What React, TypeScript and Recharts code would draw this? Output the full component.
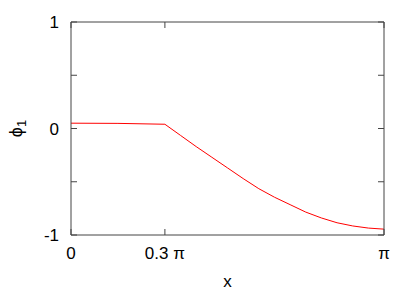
import React from 'react';
import { LineChart, Line, XAxis, YAxis } from 'recharts';

const xPositions = [0, 0.15, 0.3, 0.35, 0.4, 0.45, 0.5, 0.55, 0.6, 0.65, 0.7, 0.75, 0.8, 0.85, 0.9, 0.95, 1];
const phiValues = [0.05, 0.048, 0.04, -0.065, -0.17, -0.27, -0.37, -0.47, -0.565, -0.645, -0.715, -0.785, -0.84, -0.885, -0.915, -0.935, -0.945];
const xTicks = [0, 0.3, 1];
const xTickLabels = ['0', '0.3 π', 'π'];
const yTicks = [-1, -0.5, 0, 0.5, 1];
const yTickLabels = ['-1', '', '0', '', '1'];

const data = xPositions.map((x, i) => ({ x, phi: phiValues[i] }));

const FONT = 'Liberation Sans, Arial, Helvetica, sans-serif';
const AXIS = '#444';

const fmtX = (v: number) => {
  const i = xTicks.indexOf(v);
  return i >= 0 ? xTickLabels[i] : '';
};
const fmtY = (v: number) => {
  const i = yTicks.indexOf(v);
  return i >= 0 ? yTickLabels[i] : '';
};
const blank = () => '';

const YLabel = (props: any) => {
  const vb = props.viewBox || {};
  const cx = vb.x + 16;
  const cy = vb.y + vb.height / 2;
  return (
    <text
      x={cx}
      y={cy}
      transform={`rotate(-90, ${cx}, ${cy})`}
      textAnchor="middle"
      dominantBaseline="central"
      fontFamily={FONT}
      fontSize={18}
      fill="#000"
    >
      <tspan>ϕ</tspan>
      <tspan fontSize={13} dy={5}>1</tspan>
    </text>
  );
};

const XLabel = (props: any) => {
  const vb = props.viewBox || {};
  return (
    <text
      x={vb.x + vb.width / 2}
      y={vb.y + 52}
      textAnchor="middle"
      fontFamily={FONT}
      fontSize={17}
      fill="#000"
    >
      x
    </text>
  );
};

export default function App() {
  const tickStyle = { fontFamily: FONT, fontSize: 17, fill: '#000' };
  return (
    <div style={{ position: 'absolute', left: 0, top: 0, background: '#fff' }}>
      <LineChart width={415} height={291} data={data} margin={{ top: 0, right: 0, bottom: 0, left: 0 }}>
        <XAxis
          xAxisId="b"
          dataKey="x"
          type="number"
          orientation="bottom"
          domain={[0, 1]}
          allowDataOverflow
          ticks={xTicks}
          tickFormatter={fmtX}
          tickSize={-6}
          tickMargin={18}
          height={56}
          tick={tickStyle}
          stroke={AXIS}
          axisLine={{ stroke: AXIS }}
          tickLine={{ stroke: AXIS }}
          interval={0}
          label={<XLabel />}
        />
        <XAxis
          xAxisId="t"
          dataKey="x"
          type="number"
          orientation="top"
          domain={[0, 1]}
          allowDataOverflow
          ticks={xTicks}
          tickFormatter={blank}
          tickSize={-6}
          height={22}
          stroke={AXIS}
          axisLine={{ stroke: AXIS }}
          tickLine={{ stroke: AXIS }}
          interval={0}
        />
        <YAxis
          yAxisId="l"
          type="number"
          orientation="left"
          domain={[-1, 1]}
          allowDataOverflow
          ticks={yTicks}
          tickFormatter={fmtY}
          tickSize={-6}
          tickMargin={18}
          width={71}
          tick={tickStyle}
          stroke={AXIS}
          axisLine={{ stroke: AXIS }}
          tickLine={{ stroke: AXIS }}
          interval={0}
          label={<YLabel />}
        />
        <YAxis
          yAxisId="r"
          type="number"
          orientation="right"
          domain={[-1, 1]}
          allowDataOverflow
          ticks={yTicks}
          tickFormatter={blank}
          tickSize={-6}
          width={31}
          stroke={AXIS}
          axisLine={{ stroke: AXIS }}
          tickLine={{ stroke: AXIS }}
          interval={0}
        />
        <Line
          xAxisId="b"
          yAxisId="l"
          type="linear"
          dataKey="phi"
          stroke="#ff0000"
          strokeWidth={1}
          dot={false}
          activeDot={false}
          isAnimationActive={false}
        />
      </LineChart>
    </div>
  );
}
